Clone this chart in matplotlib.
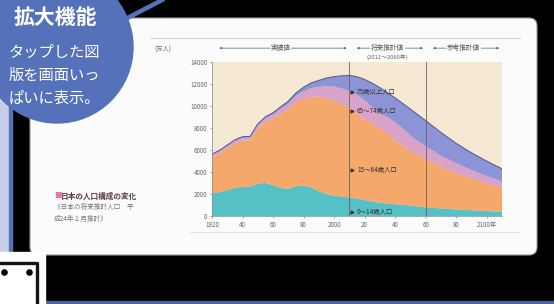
"""
日本の人口構成の変化（タブレット画面の写真を再現）
"""
import matplotlib.pyplot as plt
import matplotlib.patches as mpatches
import numpy as np

plt.rcParams['font.family'] = ['Noto Sans CJK JP', 'DejaVu Sans']

# 年（1920〜2110年）
years = [1920, 1925, 1930, 1935, 1940, 1945, 1950, 1955, 1960, 1965, 1970,
         1975, 1980, 1985, 1990, 1995, 2000, 2005, 2010, 2015, 2020, 2025,
         2030, 2035, 2040, 2045, 2050, 2055, 2060, 2070, 2080, 2090, 2100, 2110]
# 人口（万人）
age_0_14 = [2042, 2192, 2358, 2546, 2640, 2648, 2943, 3012, 2807, 2553, 2482,
            2722, 2751, 2603, 2249, 2001, 1847, 1759, 1684, 1583, 1457, 1324,
            1204, 1129, 1073, 1012, 939, 861, 791, 690, 600, 520, 455, 390]
age_15_64 = [3289, 3487, 3781, 4060, 4220, 4219, 5017, 5517, 6047, 6744, 7212,
             7581, 7883, 8251, 8590, 8716, 8622, 8409, 8173, 7682, 7341, 7085,
             6773, 6343, 5787, 5353, 5001, 4706, 4418, 3790, 3300, 2880, 2500, 2150]
age_65_74 = [222, 220, 225, 235, 255, 270, 305, 340, 372, 435, 515,
             603, 699, 776, 892, 1109, 1301, 1412, 1517, 1749, 1733, 1479,
             1407, 1495, 1645, 1600, 1383, 1225, 1128, 1000, 900, 780, 680, 590]
age_75_up = [72, 74, 81, 84, 91, 100, 106, 139, 163, 189, 224,
             284, 366, 471, 597, 717, 901, 1164, 1407, 1646, 1879, 2179,
             2278, 2245, 2223, 2257, 2385, 2401, 2336, 2110, 1800, 1560, 1350, 1160]

series_names = ['0～14歳人口', '15～64歳人口', '65～74歳人口', '75歳以上人口']
series_colors = ['#55c0c6', '#f4a86c', '#d9a2c9', '#8c93d6']
label_y = [400, 4200, 9550, 11300]

x_ticks = [1920, 1940, 1960, 1980, 2000, 2020, 2040, 2060, 2080, 2100]
x_tick_labels = ['1920', '40', '60', '80', '2000', '20', '40', '60', '80', '2100年']
y_ticks = [0, 2000, 4000, 6000, 8000, 10000, 12000, 14000]

periods = [(1920, 2010, '実績値'), (2010, 2060, '将来推計値'), (2060, 2110, '参考推計値')]

W, H = 554, 304
fig = plt.figure(figsize=(W / 100, H / 100), dpi=100)
fig.patch.set_facecolor('black')

# 背景（画面・枠・吹き出し）をピクセル座標で描く
bg = fig.add_axes([0, 0, 1, 1])
bg.set_xlim(0, W)
bg.set_ylim(H, 0)
bg.axis('off')
bg.add_patch(mpatches.Rectangle((0, 0), W, H, color='black', zorder=0))
bg.add_patch(mpatches.FancyBboxPatch((30, 18), 507, 237,
                                     boxstyle='round,pad=0,rounding_size=8',
                                     fc='#fbfbfb', ec='#9a9a9a', lw=0.8, zorder=1))
bg.add_patch(mpatches.Rectangle((0, 0), 9, 252, color='#c9cde8', zorder=2))
bg.add_patch(mpatches.Rectangle((9, 0), 3, 252, color='#5571b9', zorder=2))
bg.add_patch(mpatches.Rectangle((40, 301), W - 40, 3, color='#4a64a8', zorder=2))
bg.plot([150, 520], [38, 38], color='#d6d6d6', lw=0.8, zorder=2)
bg.plot([190, 520], [232, 232], color='#e2e2e2', lw=0.8, zorder=2)
# 左下の白い箱
bg.add_patch(mpatches.Rectangle((0, 252), 45, 52, color='white', zorder=3))
bg.plot([0, 37, 37], [263, 263, 304], color='#1a1212', lw=2.4, zorder=4)
bg.scatter([4, 29], [272, 272], s=14, color='black', zorder=4)
# 吹き出し
bg.plot([112, 166], [26, -2], color='#5571b9', lw=3.2, zorder=5, solid_capstyle='butt')
bg.add_patch(mpatches.Circle((57, 47), 76, color='#5571b9', zorder=6))
bg.text(55, 17, '拡大機能', color='white', fontsize=15, fontweight='bold',
        ha='center', va='center', zorder=7)
bg.text(9, 75, 'タップした図\n版を画面いっ\nぱいに表示。', color='white', fontsize=11,
        ha='left', va='center', linespacing=1.45, zorder=7)
# 図のタイトル
bg.text(54, 196, '■', color='#e47aa6', fontsize=5.5, ha='left', va='center', zorder=3)
bg.text(61, 196, '日本の人口構成の変化', color='#5b3a4a', fontsize=5.5,
        fontweight='bold', ha='left', va='center', zorder=3)
bg.text(54, 213, '《日本の将来推計人口　平\n成24年１月推計》', color='#777777',
        fontsize=4.8, ha='left', va='center', linespacing=1.6, zorder=3)

# グラフ本体
left, right, top, bottom = 212, 502, 62, 216
ax = fig.add_axes([left / W, (H - bottom) / H, (right - left) / W, (bottom - top) / H])
ax.set_facecolor('#f6e9d4')
ax.stackplot(years, age_0_14, age_15_64, age_65_74, age_75_up,
             colors=series_colors, lw=0)
total = np.sum([age_0_14, age_15_64, age_65_74, age_75_up], axis=0)
ax.plot(years, total, color='#5a5f94', lw=0.8)
ax.set_xlim(1920, 2110)
ax.set_ylim(0, 14000)
for yr in (2010, 2060):
    ax.axvline(yr, color='#6e6258', lw=0.6)

for name, y in zip(series_names, label_y):
    ax.text(2015, y, name, fontsize=4.6, color='#3a3030', ha='left', va='center')
    ax.plot([2012], [y], marker='>', ms=2, color='#3a3030')

ax.set_xticks(x_ticks)
ax.set_xticklabels(x_tick_labels)
ax.set_yticks(y_ticks)
ax.set_yticklabels([str(v) for v in y_ticks])
ax.tick_params(labelsize=4.5, colors='#666666', length=1.5, width=0.4, pad=2)
for s in ['top', 'right']:
    ax.spines[s].set_visible(False)
for s in ['left', 'bottom']:
    ax.spines[s].set_color('#888888')
    ax.spines[s].set_linewidth(0.5)

# 期間の見出し
ax.text(-0.2, 1.08, '(万人)', transform=ax.transAxes, fontsize=4.5,
        color='#666666', ha='left', va='center')
head_y = 1.09
for x0, x1, name in periods:
    ax.annotate('', xy=(x1, head_y), xytext=(x0 + 3, head_y),
                xycoords=('data', 'axes fraction'),
                arrowprops=dict(arrowstyle='<|-|>', color='#3f6f74', lw=0.5,
                                mutation_scale=3))
    ax.text((x0 + x1) / 2, head_y, name, transform=ax.get_xaxis_transform(),
            fontsize=4.8, color='#555555', ha='center', va='center',
            bbox=dict(fc='#fbfbfb', ec='none', pad=0.6))
ax.text((periods[1][0] + periods[1][1]) / 2, 1.035, '(2011～2060年)',
        transform=ax.get_xaxis_transform(), fontsize=4.2, color='#666666',
        ha='center', va='center')

fig.savefig('out.png', dpi=100, facecolor='black')
